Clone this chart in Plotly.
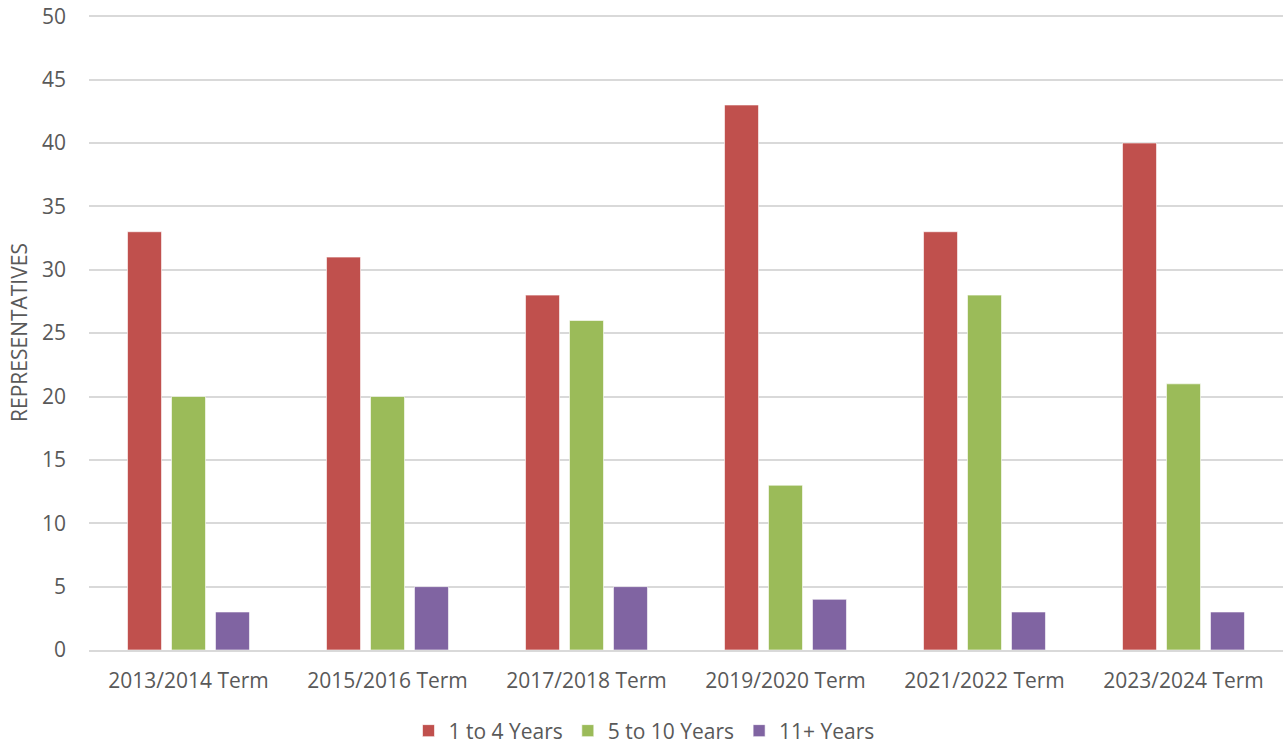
import plotly.graph_objects as go

categories = ["2013/2014 Term", "2015/2016 Term", "2017/2018 Term", "2019/2020 Term", "2021/2022 Term", "2023/2024 Term"]
series_names = ["1 to 4 Years", "5 to 10 Years", "11+ Years"]
years_1_4 = [33, 31, 28, 43, 33, 40]
years_5_10 = [20, 20, 26, 13, 28, 21]
years_11_plus = [3, 5, 5, 4, 3, 3]
colors = ["#C0504D", "#9BBB59", "#8064A2"]

fig = go.Figure()
for name, vals, c in zip(series_names, [years_1_4, years_5_10, years_11_plus], colors):
    fig.add_trace(go.Bar(x=categories, y=vals, name=name,
                         marker=dict(color=c, line=dict(color="rgba(255,255,255,0.6)", width=1))))

font = "Open Sans, DejaVu Sans, sans-serif"
fs = 21
fig.update_layout(
    width=1288, height=744,
    margin=dict(l=89, r=5, t=15, b=94),
    paper_bgcolor="white", plot_bgcolor="white",
    barmode="group", bargap=0.337, bargroupgap=0.227,
    font=dict(family=font, size=fs, color="#595959"),
    showlegend=True,
    legend=dict(orientation="h", x=0.5, xanchor="center", xref="container",
                y=0.0175, yanchor="middle", yref="container",
                font=dict(size=fs, color="#595959"), traceorder="normal", itemwidth=30),
    xaxis=dict(showgrid=False, showline=True, linecolor="#D9D9D9", linewidth=1.5,
               ticks="", tickfont=dict(size=fs, color="#595959"), automargin=False,
               ticklabelstandoff=11),
    yaxis=dict(range=[0, 50.1], tickvals=[0, 5, 10, 15, 20, 25, 30, 35, 40, 45, 50],
               showgrid=True, gridcolor="#D9D9D9", gridwidth=1.5,
               zeroline=False, showline=False, ticks="", ticklabelstandoff=22,
               tickfont=dict(size=fs, color="#595959"), automargin=False,
               title=dict(text="REPRESENTATIVES", font=dict(size=fs, color="#595959"), standoff=8)),
)
fig.write_html("out.html", config={"displayModeBar": False},
               post_script="document.body.style.margin='0';document.body.style.overflow='hidden';")
